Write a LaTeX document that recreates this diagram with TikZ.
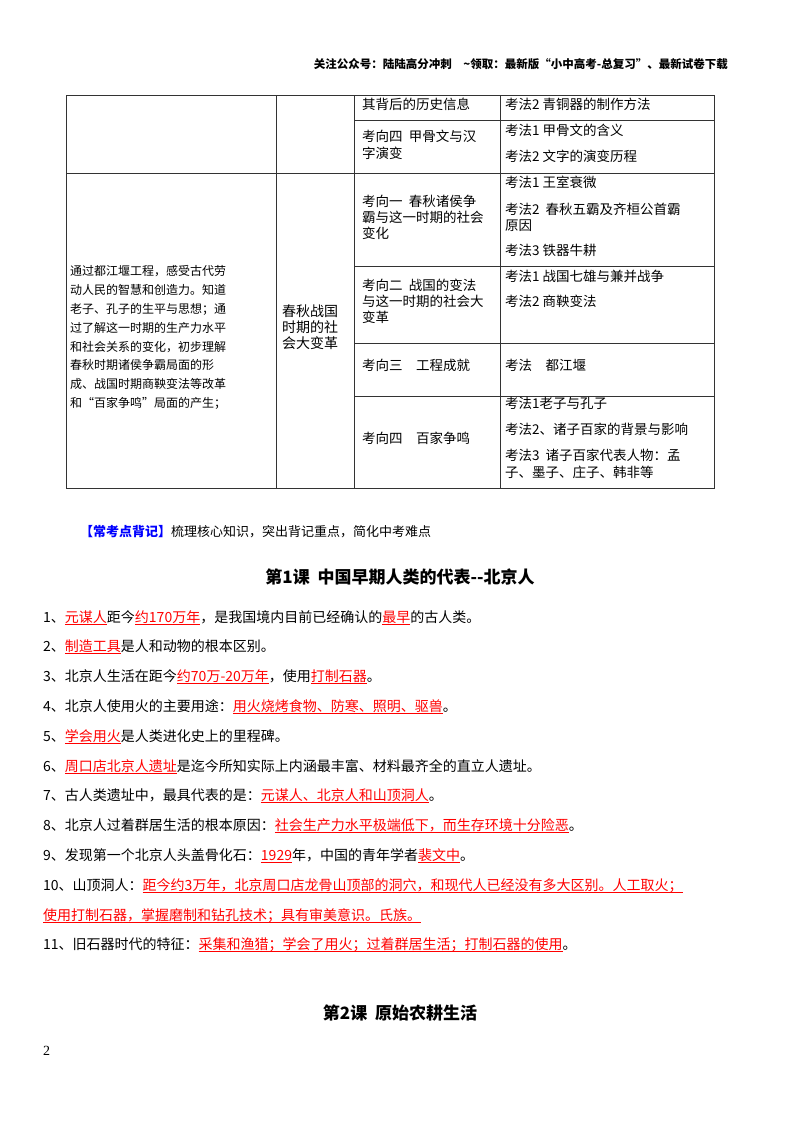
\documentclass[tikz,border=0pt]{standalone}
\usepackage{fontspec}
\setmainfont{Noto Sans CJK SC}
\newfontfamily\numf{Liberation Serif}
\newcommand\ru[1]{\textcolor{red}{\setbox0\hbox{#1}\rlap{\rule[-2.5pt]{\wd0}{0.7pt}}\box0}}
\tikzset{t/.style={anchor=base west,inner sep=0pt,font=\fontsize{13.5}{15}\selectfont},
 it/.style={anchor=base west,inner sep=0pt,font=\fontsize{14}{16}\selectfont},
 ln/.style={line width=0.8pt,draw=black!80}}
\begin{document}
\begin{tikzpicture}[x=1pt,y=-1pt]
\useasboundingbox[fill=white] (0,0) rectangle (800,1132);
\node[anchor=base east,inner sep=0pt,font=\fontsize{11.5}{13}\bfseries\selectfont] (hd) at (728,68) {关注公众号：陆陆高分冲刺\quad \textasciitilde 领取：最新版“小中高考-总复习”、最新试卷下载};
% table
\draw[ln] (66,95) rectangle (714,488);
\draw[ln] (276,95)--(276,488) (354,95)--(354,488) (500,95)--(500,488);
\draw[ln] (354,120)--(714,120) (66,173)--(714,173) (354,266)--(714,266) (354,343)--(714,343) (354,396)--(714,396);
\node[t] (a1) at (362,109) {其背后的历史信息};
\node[t] (b1) at (505,109) {考法2 青铜器的制作方法};
\node[t] (a2) at (362,141) {考向四\ \ 甲骨文与汉};
\node[t] (a2b) at (362,158) {字演变};
\node[t] (b2) at (505,135) {考法1 甲骨文的含义};
\node[t] (b3) at (505,161) {考法2 文字的演变历程};
\node[t] (a3) at (362,206) {考向一\ \ 春秋诸侯争};
\node[t] (a3b) at (362,222) {霸与这一时期的社会};
\node[t] (a3c) at (362,238) {变化};
\node[t] (b4) at (505,187) {考法1 王室衰微};
\node[t] (b5) at (505,214) {考法2\ \ 春秋五霸及齐桓公首霸};
\node[t] (b5b) at (505,230) {原因};
\node[t] (b6) at (505,255) {考法3 铁器牛耕};
\node[t] (a4) at (362,290) {考向二\ \ 战国的变法};
\node[t] (a4b) at (362,306) {与这一时期的社会大};
\node[t] (a4c) at (362,322) {变革};
\node[t] (b7) at (505,281) {考法1 战国七雄与兼并战争};
\node[t] (b8) at (505,306) {考法2 商鞅变法};
\node[t] (a5) at (362,370) {考向三\quad 工程成就};
\node[t] (b9) at (505,370) {考法\quad 都江堰};
\node[t] (a6) at (362,443) {考向四\quad 百家争鸣};
\node[t] (b10) at (505,408) {考法1老子与孔子};
\node[t] (b11) at (505,434) {考法2、诸子百家的背景与影响};
\node[t] (b12) at (505,460) {考法3\ \ 诸子百家代表人物：孟};
\node[t] (b12b) at (505,477) {子、墨子、庄子、韩非等};
\node[t,font=\fontsize{14}{16}\selectfont] (m1) at (282,316) {春秋战国};
\node[t,font=\fontsize{14}{16}\selectfont] (m2) at (282,332) {时期的社};
\node[t,font=\fontsize{14}{16}\selectfont] (m3) at (282,348) {会大变革};
\foreach \s [count=\i] in {通过都江堰工程，感受古代劳,动人民的智慧和创造力。知道,老子、孔子的生平与思想；通,过了解这一时期的生产力水平,和社会关系的变化，初步理解,春秋时期诸侯争霸局面的形,成、战国时期商鞅变法等改革,和“百家争鸣”局面的产生；}
  \node[t,font=\fontsize{12}{13}\selectfont] (l\i) at (70,{257+18.8*\i}) {\s};
% body
\node[anchor=base west,inner sep=0pt,font=\fontsize{13}{15}\selectfont] (ck) at (80,536) {\textcolor{blue}{\bfseries 【常考点背记】}梳理核心知识，突出背记重点，简化中考难点};
\node[anchor=base,inner sep=0pt,font=\fontsize{17}{20}\bfseries\selectfont] (ti) at (400,583) {第1课\ \ 中国早期人类的代表{-}{-}北京人};
\node[it] (i1) at (43,622) {1、\ru{元谋人}距今\ru{约170万年}，是我国境内目前已经确认的\ru{最早}的古人类。};
\node[it] (i2) at (43,651) {2、\ru{制造工具}是人和动物的根本区别。};
\node[it] (i3) at (43,681) {3、北京人生活在距今\ru{约70万-20万年}，使用\ru{打制石器}。};
\node[it] (i4) at (43,711) {4、北京人使用火的主要用途：\ru{用火烧烤食物、防寒、照明、驱兽}。};
\node[it] (i5) at (43,741) {5、\ru{学会用火}是人类进化史上的里程碑。};
\node[it] (i6) at (43,771) {6、\ru{周口店北京人遗址}是迄今所知实际上内涵最丰富、材料最齐全的直立人遗址。};
\node[it] (i7) at (43,800) {7、古人类遗址中，最具代表的是：\ru{元谋人、北京人和山顶洞人}。};
\node[it] (i8) at (43,830) {8、北京人过着群居生活的根本原因：\ru{社会生产力水平极端低下，而生存环境十分险恶}。};
\node[it] (i9) at (43,860) {9、发现第一个北京人头盖骨化石：\ru{1929}年，中国的青年学者\ru{裴文中}。};
\node[it] (i10) at (43,890) {10、山顶洞人：\ru{距今约3万年，北京周口店龙骨山顶部的洞穴，和现代人已经没有多大区别。人工取火；}};
\node[it] (i10b) at (43,920) {\ru{使用打制石器，掌握磨制和钻孔技术；具有审美意识。氏族。}};
\node[it] (i11) at (43,949) {11、旧石器时代的特征：\ru{采集和渔猎；学会了用火；过着群居生活；打制石器的使用}。};
\node[anchor=base,inner sep=0pt,font=\fontsize{17}{20}\bfseries\selectfont] (t2) at (400,1019) {第2课\ \ 原始农耕生活};
\node[anchor=base west,inner sep=0pt,font=\numf\fontsize{14}{16}\selectfont] (pg) at (43,1055) {2};
\end{tikzpicture}
\end{document}
